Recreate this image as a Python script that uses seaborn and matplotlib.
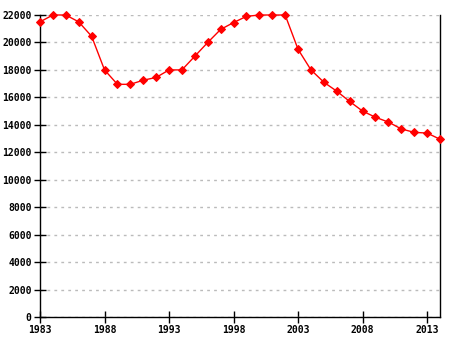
import matplotlib
matplotlib.use("Agg")
import matplotlib.pyplot as plt
import seaborn as sns
import pandas as pd

years = list(range(1983, 2015))
population = [21500, 22000, 22000, 21500, 20450, 18000, 16950, 16950, 17250, 17450,
              18000, 18000, 19000, 20000, 20950, 21450, 21900, 22000, 22000, 22000,
              19500, 18000, 17100, 16450, 15700, 15000, 14550, 14200, 13700, 13450,
              13400, 12950]
x_ticks = [1983, 1988, 1993, 1998, 2003, 2008, 2013]
y_ticks = list(range(0, 22001, 2000))

df = pd.DataFrame({"year": years, "population": population})

sns.set_style("white")
plt.rcParams['font.family'] = ['DejaVu Sans Mono']

fig = plt.figure(figsize=(4.55, 3.4), dpi=100)
ax = fig.add_axes([40/455, 1-317/340, 400/455, (317-15)/340])

sns.lineplot(data=df, x="year", y="population", ax=ax, color="red", linewidth=1,
             marker="D", markersize=4.5, markeredgecolor="red", markerfacecolor="red",
             clip_on=False, zorder=5)

ax.set_xlim(1983, 2014)
ax.set_ylim(0, 22000)
ax.set_xticks(x_ticks)
ax.set_yticks(y_ticks)
ax.set_xticklabels([str(t) for t in x_ticks], fontsize=7, fontweight="bold")
ax.set_yticklabels([str(t) for t in y_ticks], fontsize=7, fontweight="bold")
ax.set_xlabel("")
ax.set_ylabel("")
ax.yaxis.grid(True, color="#bbbbbb", linestyle=(0, (2, 3)), linewidth=1)
ax.xaxis.grid(False)
ax.set_axisbelow(True)
for s in ["left", "bottom", "right"]:
    ax.spines[s].set_visible(True)
    ax.spines[s].set_color("black")
    ax.spines[s].set_linewidth(1.0)
ax.spines["top"].set_visible(False)
ax.tick_params(axis="both", which="major", direction="inout", length=8, width=1.0,
               color="black", labelcolor="black", pad=2)
ax.tick_params(axis="y", left=True, right=False)
ax.tick_params(axis="x", bottom=True)

fig.savefig("out.png", dpi=100)
